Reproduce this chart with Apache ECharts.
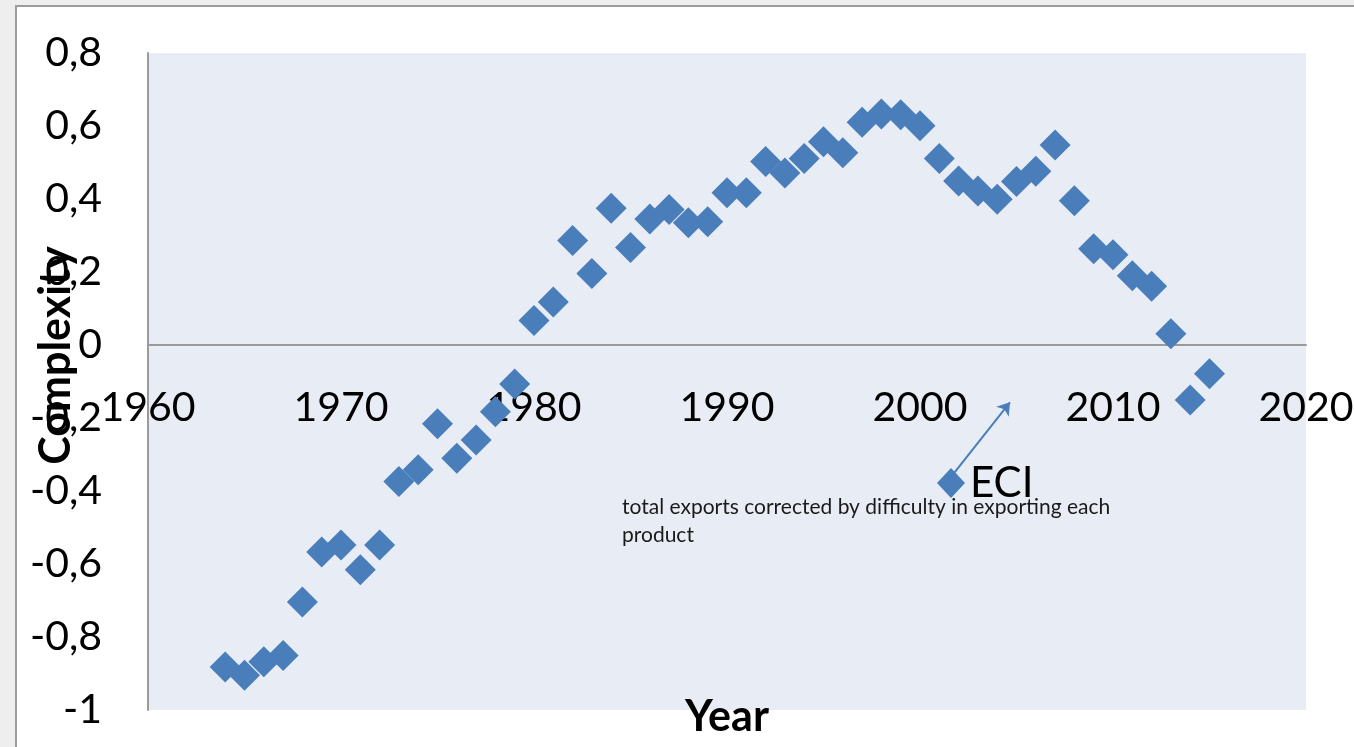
<!DOCTYPE html>
<html>
<head>
<meta charset="utf-8">
<script src="https://cdn.jsdelivr.net/npm/echarts@6/dist/echarts.min.js"></script>
<style>
html,body{margin:0;padding:0;width:1354px;height:747px;overflow:hidden;background:#eeeeee;}
#frame{position:absolute;left:15px;top:5px;width:1400px;height:800px;background:#ffffff;border:2px solid #9c9c9c;}
#chart{position:absolute;left:0;top:0;width:1354px;height:747px;}
</style>
</head>
<body>
<div id="frame"></div>
<div id="chart"></div>
<script>
// Data
const years = [1964,1965,1966,1967,1968,1969,1970,1971,1972,1973,1974,1975,1976,1977,1978,1979,
  1980,1981,1982,1983,1984,1985,1986,1987,1988,1989,1990,1991,1992,1993,1994,1995,1996,1997,1998,1999,
  2000,2001,2002,2003,2004,2005,2006,2007,2008,2009,2010,2011,2012,2013,2014,2015];
const eci = [-0.882,-0.905,-0.868,-0.851,-0.704,-0.567,-0.548,-0.616,-0.548,-0.374,-0.342,-0.216,-0.310,-0.260,-0.183,-0.107,
  0.067,0.118,0.286,0.196,0.375,0.267,0.345,0.371,0.335,0.338,0.417,0.417,0.503,0.471,0.511,0.557,0.527,0.610,0.633,0.631,
  0.601,0.511,0.449,0.422,0.399,0.448,0.476,0.548,0.395,0.264,0.247,0.190,0.161,0.031,-0.151,-0.079];
const xTicks = {min:1960, max:2020, step:10};
const yTicks = {min:-1, max:0.8, step:0.2};
const seriesName = 'ECI';
const annotationText = 'total exports corrected by difficulty in exporting each\nproduct';
const arrowFrom = [2001.7, -0.355];
const arrowTo = [2004.66, -0.157];

const FONT = 'Lato';
const GRID = {left:148, right:48, top:53, bottom:37};
const plotH = 747 - GRID.top - GRID.bottom;
// x axis crosses the value axis at 0 (Excel style)
const zeroOffset = -plotH * (0 - yTicks.min) / (yTicks.max - yTicks.min);

const chart = echarts.init(document.getElementById('chart'), null, {renderer:'canvas'});
const points = years.map((y,i)=>[y, eci[i]]);

chart.setOption({
  backgroundColor: 'transparent',
  animation: false,
  grid: Object.assign({containLabel:false, outerBoundsMode:'none',
    show:true, backgroundColor:'#E8ECF4', borderWidth:0}, GRID),
  xAxis: {
    type:'value', position:'bottom', offset:zeroOffset,
    min:xTicks.min, max:xTicks.max, interval:xTicks.step,
    axisLine:{show:true, onZero:false, lineStyle:{color:'#9a9a9a', width:2}},
    axisTick:{show:false}, splitLine:{show:false},
    axisLabel:{show:true, color:'#000', fontFamily:FONT, fontSize:41, margin:42,
      formatter:function(v){ return String(v); }},
    name:'Year', nameLocation:'middle', nameGap:351, nameMoveOverlap:false,
    nameTextStyle:{color:'#000', fontFamily:FONT, fontWeight:'bold', fontSize:43}
  },
  yAxis: {
    type:'value', min:yTicks.min, max:yTicks.max, interval:yTicks.step,
    axisLine:{show:true, onZero:false, lineStyle:{color:'#9a9a9a', width:2}},
    axisTick:{show:false}, splitLine:{show:false},
    axisLabel:{color:'#000', fontFamily:FONT, fontSize:41, margin:46, hideOverlap:false,
      showMinLabel:true, showMaxLabel:true,
      formatter:v=>String(Math.round(v*10)/10).replace('.', ',')},
    name:'Complexity', nameLocation:'middle', nameGap:70, nameRotate:90, nameMoveOverlap:false,
    nameTextStyle:{color:'#000', fontFamily:FONT, fontWeight:'bold', fontSize:43, padding:[0,0,0,52]}
  },
  legend: {
    show:true, left:937, top:462, padding:0, itemWidth:28, itemHeight:30,
    textStyle:{color:'#000', fontFamily:FONT, fontSize:42},
    data:[{name:seriesName, icon:'diamond'}]
  },
  graphic: [{
    type:'text', left:622, top:493, z:100,
    style:{text:annotationText, fill:'#1a1a1a', font:'21px Lato', lineHeight:28}
  }],
  series: [{
    name:seriesName, type:'scatter', symbol:'diamond', symbolSize:31,
    itemStyle:{color:'#4A7EBB', opacity:1},
    data:points,
    markLine:{
      silent:true, animation:false,
      symbol:['none','arrow'], symbolSize:12,
      lineStyle:{color:'#4A7EBB', width:2, type:'solid'},
      label:{show:false},
      data:[[{coord:arrowFrom},{coord:arrowTo}]]
    }
  }]
});
</script>
</body>
</html>
